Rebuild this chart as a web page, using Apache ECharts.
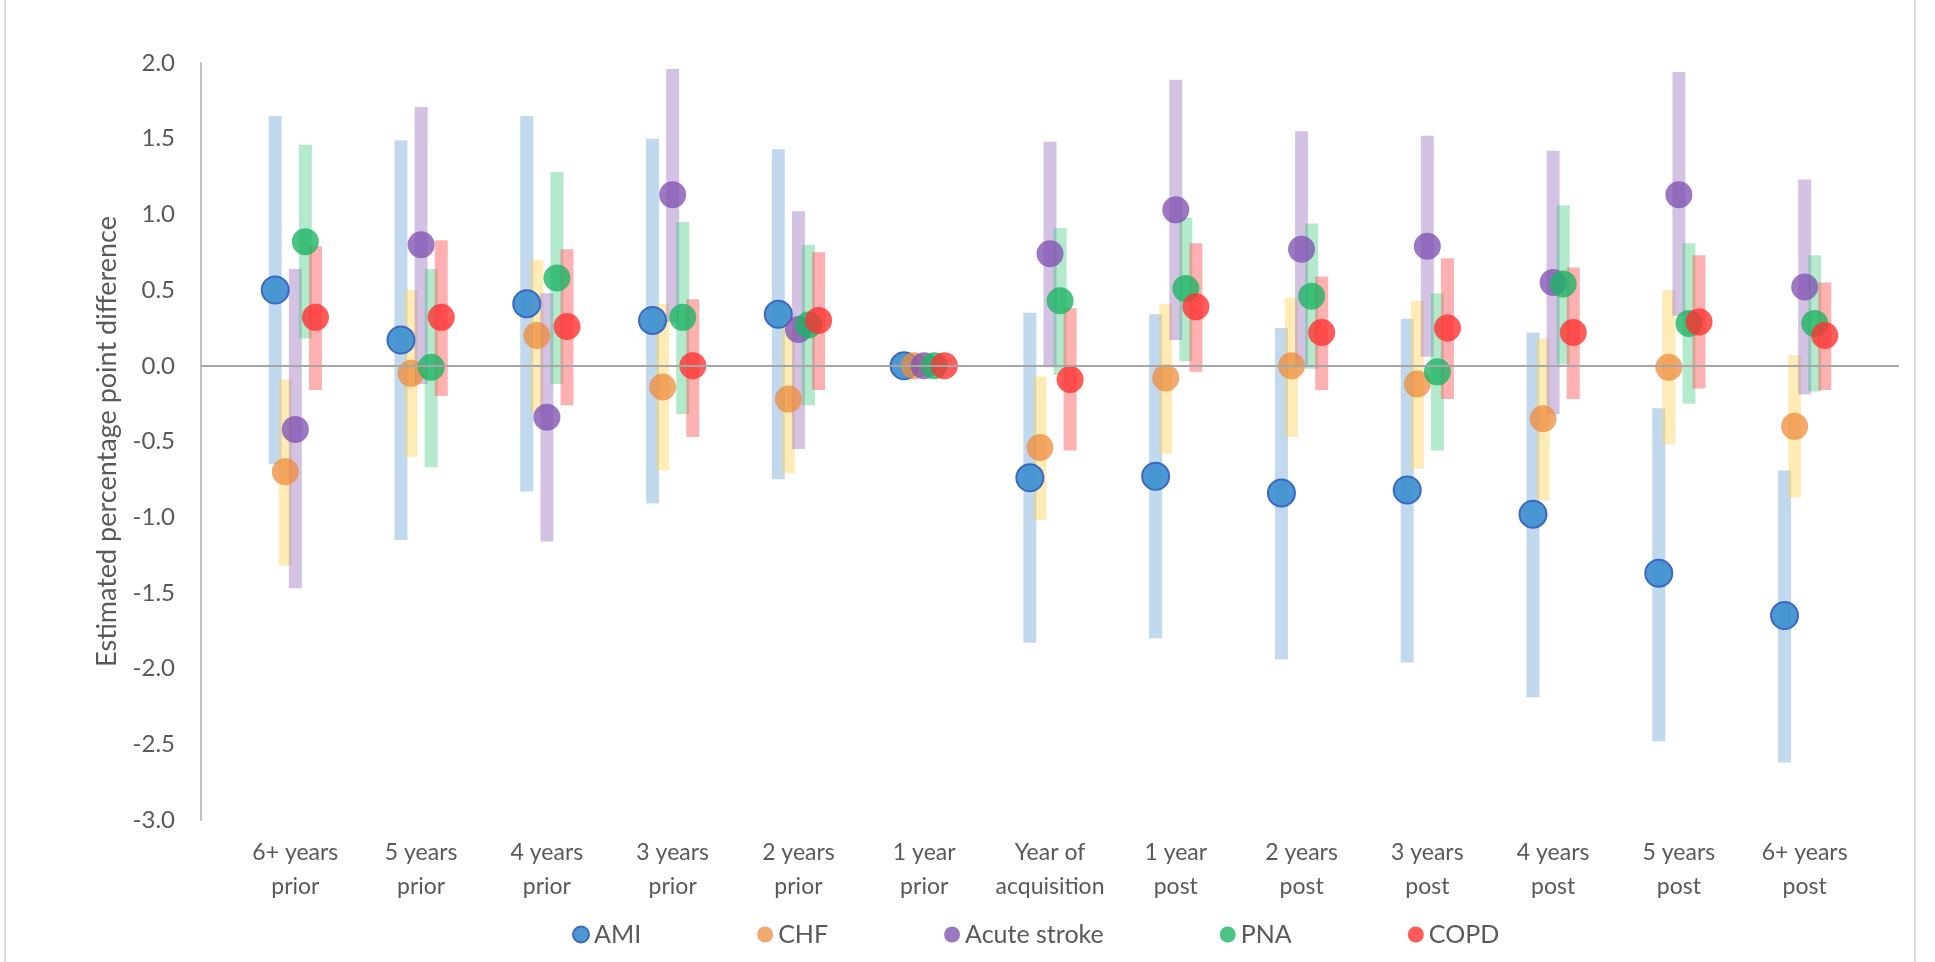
<!DOCTYPE html>
<html lang="en">
<head>
	<meta charset="UTF-8">
	<title>Estimated percentage point difference</title>
	<script type="text/javascript" src="https://cdn.jsdelivr.net/npm/echarts@6/dist/echarts.min.js"></script>
	<style>
		html, body { margin: 0; padding: 0; background: #fff; }
		#frame { position: absolute; left: 4px; top: 0; width: 1908px; height: 962px;
			border-left: 2px solid #d9d9d9; border-right: 2px solid #d9d9d9; }
		#main { position: absolute; left: 0; top: 0; width: 1935px; height: 962px; }
	</style>
</head>
<body>
	<div id="frame"></div>
	<div id="main"></div>

	<script type="text/javascript">
		var periods = ['6+ years\nprior', '5 years\nprior', '4 years\nprior', '3 years\nprior', '2 years\nprior',
			'1 year\nprior', 'Year of\nacquisition', '1 year\npost', '2 years\npost', '3 years\npost',
			'4 years\npost', '5 years\npost', '6+ years\npost'];
		var yTicks = [-3, -2.5, -2, -1.5, -1, -0.5, 0, 0.5, 1, 1.5, 2];

		// point estimates
		var amiEst    = [0.50, 0.17, 0.41, 0.30, 0.34, 0, -0.74, -0.73, -0.84, -0.82, -0.98, -1.37, -1.65];
		var chfEst    = [-0.70, -0.05, 0.20, -0.14, -0.22, 0, -0.54, -0.08, 0.00, -0.12, -0.35, -0.01, -0.40];
		var strokeEst = [-0.42, 0.80, -0.34, 1.13, 0.24, 0, 0.74, 1.03, 0.77, 0.79, 0.55, 1.13, 0.52];
		var pnaEst    = [0.82, -0.01, 0.58, 0.32, 0.27, 0, 0.43, 0.51, 0.46, -0.04, 0.54, 0.28, 0.28];
		var copdEst   = [0.32, 0.32, 0.26, 0.00, 0.30, 0, -0.09, 0.39, 0.22, 0.25, 0.22, 0.29, 0.20];

		// confidence interval bounds (1 year prior is the reference year, no interval)
		var amiLo    = [-0.65, -1.15, -0.83, -0.91, -0.75, null, -1.83, -1.80, -1.94, -1.96, -2.19, -2.48, -2.62];
		var amiHi    = [1.65, 1.49, 1.65, 1.50, 1.43, null, 0.35, 0.34, 0.25, 0.31, 0.22, -0.28, -0.69];
		var chfLo    = [-1.32, -0.60, -0.31, -0.69, -0.71, null, -1.02, -0.58, -0.47, -0.68, -0.89, -0.52, -0.87];
		var chfHi    = [-0.09, 0.50, 0.70, 0.41, 0.25, null, -0.07, 0.41, 0.45, 0.43, 0.18, 0.50, 0.07];
		var strokeLo = [-1.47, -0.12, -1.16, 0.29, -0.55, null, -0.01, 0.17, -0.01, 0.06, -0.32, 0.33, -0.19];
		var strokeHi = [0.64, 1.71, 0.48, 1.96, 1.02, null, 1.48, 1.89, 1.55, 1.52, 1.42, 1.94, 1.23];
		var pnaLo    = [0.18, -0.67, -0.12, -0.32, -0.26, null, -0.06, 0.03, -0.02, -0.56, 0.01, -0.25, -0.17];
		var pnaHi    = [1.46, 0.64, 1.28, 0.95, 0.80, null, 0.91, 0.98, 0.94, 0.48, 1.06, 0.81, 0.73];
		var copdLo   = [-0.16, -0.20, -0.26, -0.47, -0.16, null, -0.56, -0.04, -0.16, -0.22, -0.22, -0.15, -0.16];
		var copdHi   = [0.79, 0.83, 0.77, 0.44, 0.75, null, 0.38, 0.81, 0.59, 0.71, 0.65, 0.73, 0.55];

		var groups = [
			{name: 'AMI', est: amiEst, lo: amiLo, hi: amiHi, bar: 'rgba(91,155,213,0.38)',
				dot: 'rgba(66,146,208,0.95)', border: '#3a68c4'},
			{name: 'CHF', est: chfEst, lo: chfLo, hi: chfHi, bar: 'rgba(255,208,80,0.42)',
				dot: 'rgba(238,140,60,0.75)'},
			{name: 'Acute stroke', est: strokeEst, lo: strokeLo, hi: strokeHi, bar: 'rgba(148,103,189,0.4)',
				dot: 'rgba(128,82,178,0.78)'},
			{name: 'PNA', est: pnaEst, lo: pnaLo, hi: pnaHi, bar: 'rgba(46,196,114,0.36)',
				dot: 'rgba(30,180,100,0.8)'},
			{name: 'COPD', est: copdEst, lo: copdLo, hi: copdHi, bar: 'rgba(255,80,80,0.45)',
				dot: 'rgba(255,50,50,0.8)'}
		];

		var step = 0.08;
		var font = 'Lato, "Open Sans", sans-serif';
		var series = [];

		// interval bars first, so the dots sit on top
		groups.forEach(function (g, gi) {
			var off = (gi - 2) * step;
			var data = [];
			for (var i = 0; i < periods.length; i++) {
				if (g.lo[i] != null) data.push([i + 1 + off, g.lo[i], g.hi[i]]);
			}
			var s = {
				name: g.name + ' CI',
				type: 'custom',
				z: 1,
				silent: true,
				data: data,
				renderItem: function (params, api) {
					var top = api.coord([api.value(0), api.value(2)]);
					var bot = api.coord([api.value(0), api.value(1)]);
					return {
						type: 'rect',
						shape: {x: top[0] - 6.5, y: top[1], width: 13, height: bot[1] - top[1]},
						style: {fill: g.bar}
					};
				}
			};
			if (gi === 0) {
				s.markLine = {
					silent: true,
					symbol: 'none',
					label: {show: false},
					lineStyle: {color: '#a6a6a6', width: 2, type: 'solid'},
					data: [{yAxis: 0}]
				};
			}
			series.push(s);
		});

		groups.forEach(function (g, gi) {
			var off = (gi - 2) * step;
			series.push({
				name: g.name,
				type: 'scatter',
				z: 2,
				symbol: 'circle',
				symbolSize: 27,
				itemStyle: {color: g.dot, borderColor: g.border || 'transparent', borderWidth: g.border ? 2 : 0, opacity: 1},
				data: g.est.map(function (v, i) { return [i + 1 + off, v]; })
			});
		});

		var chart = echarts.init(document.getElementById('main'));
		chart.setOption({
			animation: false,
			textStyle: {fontFamily: font},
			grid: {left: 201, right: 36, top: 63, bottom: 142, containLabel: false},
			legend: {
				data: groups.map(function (g) { return g.name; }),
				left: 567, top: 917,
				icon: 'circle', itemWidth: 16, itemHeight: 16, itemGap: 116,
				textStyle: {fontSize: 25, color: '#595959', fontFamily: font}
			},
			xAxis: {
				type: 'value', min: 0.25, max: 13.75,
				axisLine: {show: false}, axisTick: {show: false}, splitLine: {show: false},
				axisLabel: {
					customValues: periods.map(function (p, i) { return i + 1; }),
					formatter: function (v) { return periods[Math.round(v) - 1] || ''; },
					fontSize: 23, lineHeight: 34, color: '#595959', margin: 16
				}
			},
			yAxis: {
				type: 'value', min: yTicks[0], max: yTicks[yTicks.length - 1], interval: 0.5,
				name: 'Estimated percentage point difference',
				nameLocation: 'middle', nameGap: 80,
				nameTextStyle: {fontSize: 27, color: '#595959'},
				axisLine: {show: true, lineStyle: {color: '#bfbfbf', width: 2}},
				axisTick: {show: false}, splitLine: {show: false},
				axisLabel: {
					formatter: function (v) { return v.toFixed(1); },
					fontSize: 24, color: '#595959', margin: 26
				}
			},
			series: series
		});
	</script>
</body>
</html>
